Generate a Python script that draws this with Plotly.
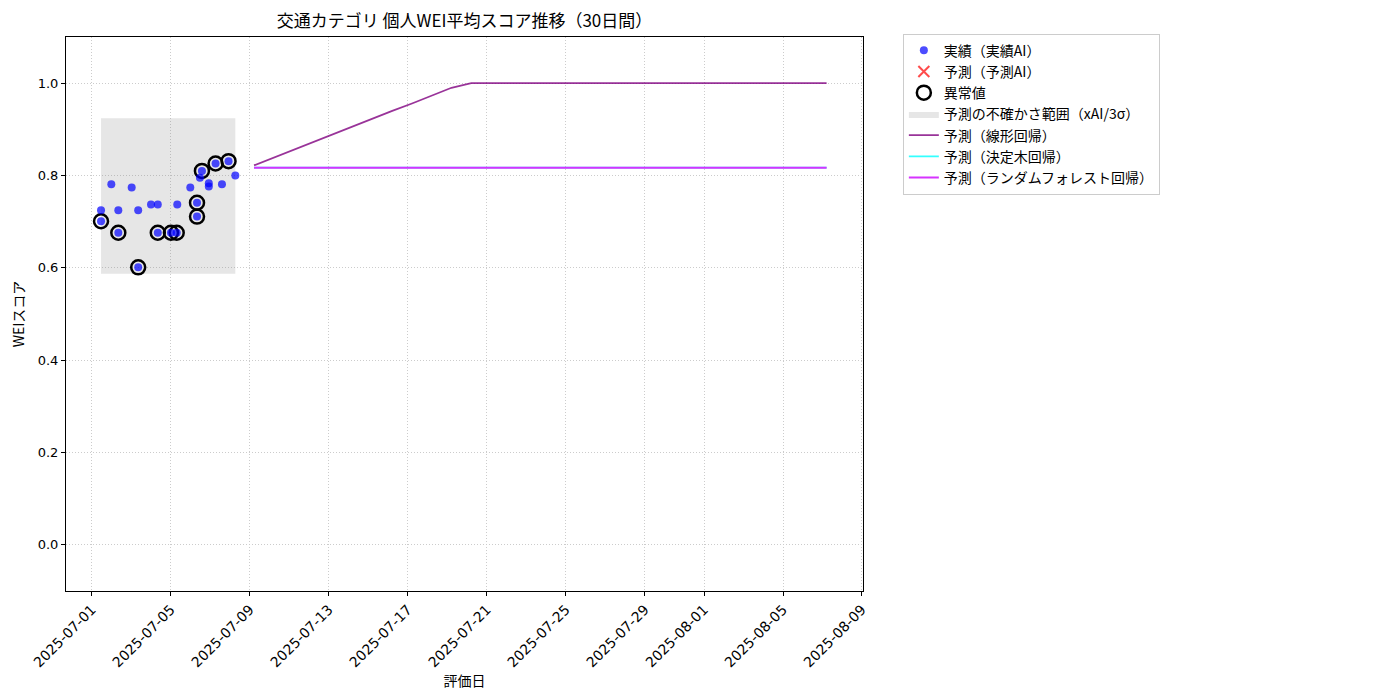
import plotly.graph_objects as go

# 実績データ（評価日時, WEIスコア）
actual_dates = [
    "2025-07-01 11:00", "2025-07-01 11:00", "2025-07-01 23:30", "2025-07-02 08:00",
    "2025-07-02 08:00", "2025-07-03 00:15", "2025-07-03 08:10", "2025-07-03 08:10",
    "2025-07-03 23:45", "2025-07-04 08:00", "2025-07-04 08:00", "2025-07-05 00:00",
    "2025-07-05 07:00", "2025-07-05 07:40", "2025-07-05 23:30", "2025-07-06 07:40",
    "2025-07-06 07:40", "2025-07-06 11:15", "2025-07-06 13:40", "2025-07-06 22:00",
    "2025-07-06 22:00", "2025-07-07 06:15", "2025-07-07 14:00", "2025-07-07 22:00",
    "2025-07-08 06:15",
]
actual_scores = [
    0.725, 0.701, 0.781, 0.725, 0.676, 0.774, 0.725, 0.601, 0.737, 0.737, 0.676,
    0.676, 0.676, 0.737, 0.774, 0.741, 0.711, 0.795, 0.810, 0.783, 0.776, 0.826,
    0.781, 0.831, 0.800,
]

# 異常値
outlier_dates = [
    "2025-07-01 11:00", "2025-07-02 08:00", "2025-07-03 08:10", "2025-07-04 08:00",
    "2025-07-05 00:00", "2025-07-05 07:00", "2025-07-06 07:40", "2025-07-06 07:40",
    "2025-07-06 13:40", "2025-07-07 06:15", "2025-07-07 22:00",
]
outlier_scores = [0.701, 0.676, 0.601, 0.676, 0.676, 0.676, 0.741, 0.711, 0.810, 0.826, 0.831]

# 不確かさ範囲
band_dates = ["2025-07-01 11:00", "2025-07-08 06:15"]
band_lower = 0.587
band_upper = 0.924

# 予測（30日間）
forecast_dates = [
    "2025-07-09 05:00", "2025-07-10 05:00", "2025-07-11 05:00", "2025-07-12 05:00",
    "2025-07-13 05:00", "2025-07-14 05:00", "2025-07-15 05:00", "2025-07-16 05:00",
    "2025-07-17 05:00", "2025-07-18 05:00", "2025-07-19 05:00", "2025-07-20 05:00",
    "2025-07-21 05:00", "2025-07-22 05:00", "2025-07-23 05:00", "2025-07-24 05:00",
    "2025-07-25 05:00", "2025-07-26 05:00", "2025-07-27 05:00", "2025-07-28 05:00",
    "2025-07-29 05:00", "2025-07-30 05:00", "2025-07-31 05:00", "2025-08-01 05:00",
    "2025-08-02 05:00", "2025-08-03 05:00", "2025-08-04 05:00", "2025-08-05 05:00",
    "2025-08-06 05:00", "2025-08-07 05:00",
]
linear_pred = [
    0.822, 0.839, 0.856, 0.872, 0.889, 0.906, 0.923, 0.940, 0.956, 0.973, 0.990,
    1.0, 1.0, 1.0, 1.0, 1.0, 1.0, 1.0, 1.0, 1.0, 1.0, 1.0, 1.0, 1.0, 1.0, 1.0,
    1.0, 1.0, 1.0, 1.0,
]
tree_pred = [0.817] * 30
forest_pred = [0.817] * 30

x_ticks = [
    "2025-07-01", "2025-07-05", "2025-07-09", "2025-07-13", "2025-07-17", "2025-07-21",
    "2025-07-25", "2025-07-29", "2025-08-01", "2025-08-05", "2025-08-09",
]
y_ticks = [0.0, 0.2, 0.4, 0.6, 0.8, 1.0]

FONT = "Noto Sans CJK JP"
TICK_FONT = "DejaVu Sans, Noto Sans CJK JP"

# ページ余白 8px を見込んだサイズ
W, H = 1392, 692

fig = go.Figure()

# 不確かさ範囲
fig.add_trace(go.Scatter(
    x=[band_dates[0], band_dates[1], band_dates[1], band_dates[0], band_dates[0]],
    y=[band_lower, band_lower, band_upper, band_upper, band_lower],
    fill="toself", fillcolor="rgba(128,128,128,0.2)", mode="lines",
    line=dict(width=0), name="予測の不確かさ範囲（xAI/3σ）", legendrank=4,
))

fig.add_trace(go.Scatter(
    x=forecast_dates, y=linear_pred, mode="lines",
    line=dict(color="rgba(128,0,128,0.8)", width=1.8),
    name="予測（線形回帰）", legendrank=5,
))
fig.add_trace(go.Scatter(
    x=forecast_dates, y=tree_pred, mode="lines",
    line=dict(color="rgba(0,255,255,0.8)", width=1.8),
    name="予測（決定木回帰）", legendrank=6,
))
fig.add_trace(go.Scatter(
    x=forecast_dates, y=forest_pred, mode="lines",
    line=dict(color="#d633ff", width=2),
    name="予測（ランダムフォレスト回帰）", legendrank=7,
))

fig.add_trace(go.Scatter(
    x=outlier_dates, y=outlier_scores, mode="markers",
    marker=dict(symbol="circle-open", size=14, color="black", line=dict(width=2.5, color="black")),
    name="異常値", legendrank=3,
))
fig.add_trace(go.Scatter(
    x=actual_dates, y=actual_scores, mode="markers",
    marker=dict(symbol="circle", size=8, color="rgba(0,0,255,0.7)", line=dict(width=0)),
    name="実績（実績AI）", legendrank=1,
))
fig.add_trace(go.Scatter(
    x=[None], y=[None], mode="markers",
    marker=dict(symbol="x-thin", size=11, line=dict(width=2, color="rgba(255,0,0,0.7)")),
    name="予測（予測AI）", legendrank=2,
))

fig.update_layout(
    width=W, height=H,
    margin=dict(l=58, r=537, t=29, b=109, autoexpand=False),
    paper_bgcolor="white", plot_bgcolor="white",
    font=dict(family=FONT, size=14, color="black"),
    title=dict(
        text="交通カテゴリ 個人WEI平均スコア推移（30日間）",
        x=(58 + 855) / 2 / W, xanchor="center",
        y=1 - 13 / H, yanchor="middle", yref="container",
        font=dict(size=17),
    ),
    legend=dict(
        x=1.05, y=1.006, xanchor="left", yanchor="top",
        bordercolor="#cccccc", borderwidth=1, bgcolor="white",
        font=dict(size=14), tracegroupgap=0, itemwidth=30,
    ),
    showlegend=True,
)

fig.update_xaxes(
    type="date", automargin=False,
    range=["2025-06-29 16:25", "2025-08-09 01:15"],
    tickvals=x_ticks, ticktext=x_ticks, tickangle=-45,
    tickfont=dict(family=TICK_FONT, size=14),
    showline=True, linecolor="black", linewidth=1, mirror=True,
    ticks="outside", ticklen=4, tickcolor="black",
    showgrid=True, gridcolor="#cccccc", griddash="1px,2px", gridwidth=1,
    zeroline=False,
    title=dict(text="評価日", font=dict(size=14), standoff=6),
)
fig.update_yaxes(
    automargin=False,
    range=[-0.1, 1.1],
    tickvals=y_ticks, tickformat=".1f",
    tickfont=dict(family=TICK_FONT, size=13),
    showline=True, linecolor="black", linewidth=1, mirror=True,
    ticks="outside", ticklen=4, tickcolor="black",
    showgrid=True, gridcolor="#cccccc", griddash="1px,2px", gridwidth=1,
    zeroline=False,
    title=dict(text="WEIスコア", font=dict(size=14), standoff=13),
)

fig.write_html("out.html")
